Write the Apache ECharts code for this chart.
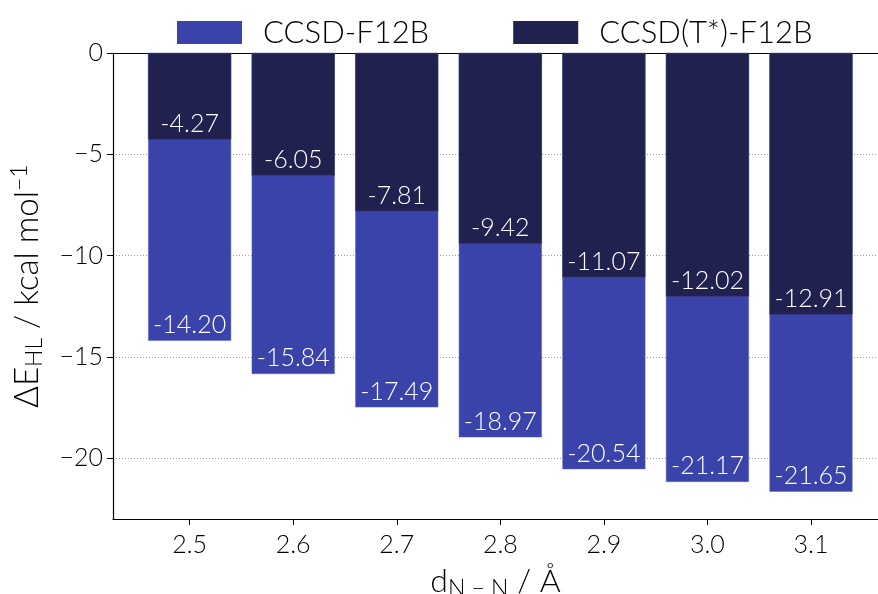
<!DOCTYPE html>
<html><head><meta charset="utf-8">
<script src="https://cdn.jsdelivr.net/npm/echarts@6/dist/echarts.min.js"></script>
<style>html,body{margin:0;padding:0;background:#fff}#c{width:878px;height:594px}</style>
</head><body><div id="c"></div>
<script>
const distances = [2.5, 2.6, 2.7, 2.8, 2.9, 3.0, 3.1];
const ccsdF12b = [-14.20, -15.84, -17.49, -18.97, -20.54, -21.17, -21.65];
const ccsdTF12b = [-4.27, -6.05, -7.81, -9.42, -11.07, -12.02, -12.91];
const yTicks = [0, -5, -10, -15, -20];
const seriesNames = ['CCSD-F12B', 'CCSD(T*)-F12B'];

const FONT = 'Lato';
const FW = 300;
const chart = echarts.init(document.getElementById('c'), null, {renderer: 'canvas'});
const lbl = {
  show: true, position: 'insideBottom', distance: 3, color: '#fff',
  fontFamily: FONT, fontWeight: FW, fontSize: 25,
  formatter: p => p.value[1].toFixed(2)
};
chart.setOption({
  animation: false,
  textStyle: {fontFamily: FONT, fontWeight: FW},
  legend: {
    left: 172, top: 12, itemWidth: 65, itemHeight: 23, itemGap: 84,
    icon: 'rect',
    itemStyle: {borderWidth: 0},
    textStyle: {fontFamily: FONT, fontWeight: FW, fontSize: 31, color: '#000', padding: [0, 0, 0, 16]},
    data: seriesNames
  },
  grid: {left: 113, top: 53, bottom: 75, right: 0, containLabel: false, outerBoundsMode: 'none'},
  xAxis: [{
    type: 'value', min: 2.426, max: 3.1647,
    axisLine: {show: true, onZero: false, lineStyle: {color: '#000', width: 1.2}},
    axisTick: {show: true, length: 6, customValues: distances, lineStyle: {color: '#000'}},
    axisLabel: {customValues: distances, formatter: v => v.toFixed(1), fontFamily: FONT, fontWeight: FW, fontSize: 25, color: '#000', margin: 13},
    splitLine: {show: false},
    name: 'd{sub|N − N} / Å', nameLocation: 'middle', nameGap: 44,
    nameTextStyle: {fontFamily: FONT, fontWeight: FW, fontSize: 32, color: '#000',
      rich: {sub: {fontFamily: FONT, fontWeight: FW, fontSize: 23, color: '#000', padding: [14, 0, 0, 0]}}}
  }, {
    type: 'value', position: 'top', min: 2.426, max: 3.1647,
    axisLine: {show: true, onZero: false, lineStyle: {color: '#000', width: 1.2}},
    axisTick: {show: false}, axisLabel: {show: false}, splitLine: {show: false}
  }],
  yAxis: {
    type: 'value', min: -23, max: 0,
    axisLine: {show: true, onZero: false, lineStyle: {color: '#000', width: 1.2}},
    axisTick: {show: true, length: 6, customValues: yTicks, lineStyle: {color: '#000'}},
    axisLabel: {customValues: yTicks, formatter: v => String(v).replace('-', '\u2212'), fontFamily: FONT, fontWeight: FW, fontSize: 25, color: '#000', margin: 10},
    splitLine: {show: true, lineStyle: {color: '#999', type: [1, 2], width: 1}},
    name: 'ΔE{sub|HL} / kcal mol{sup|−1}', nameLocation: 'middle', nameGap: 66,
    nameTextStyle: {fontFamily: FONT, fontWeight: FW, fontSize: 33, color: '#000',
      rich: {sub: {fontFamily: FONT, fontWeight: FW, fontSize: 23, color: '#000', padding: [14, 0, 0, 0]},
             sup: {fontFamily: FONT, fontWeight: FW, fontSize: 23, color: '#000', padding: [0, 0, 16, 0]}}}
  },
  series: [
    {name: seriesNames[0], type: 'bar', barWidth: 83, barGap: '-100%',
     itemStyle: {color: '#3a43a9', borderColor: '#5a62c0', borderWidth: 0.5},
     label: lbl,
     data: distances.map((d, i) => [d, ccsdF12b[i]])},
    {name: seriesNames[1], type: 'bar', barWidth: 83, barGap: '-100%',
     itemStyle: {color: '#20214f', borderColor: '#3a3c6a', borderWidth: 0.5},
     label: lbl,
     data: distances.map((d, i) => [d, ccsdTF12b[i]])}
  ]
});
</script></body></html>
